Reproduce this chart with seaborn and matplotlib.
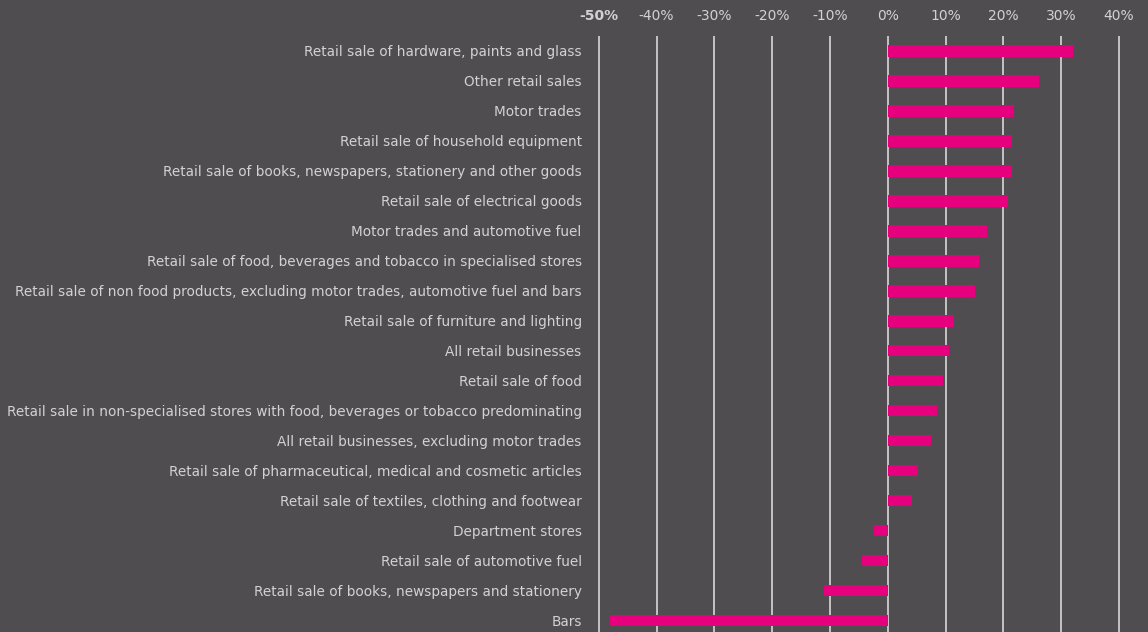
import matplotlib
matplotlib.use("Agg")
import matplotlib.pyplot as plt
import seaborn as sns
import pandas as pd

categories = [
    "Retail sale of hardware, paints and glass",
    "Other retail sales",
    "Motor trades",
    "Retail sale of household equipment",
    "Retail sale of books, newspapers, stationery and other goods",
    "Retail sale of electrical goods",
    "Motor trades and automotive fuel",
    "Retail sale of food, beverages and tobacco in specialised stores",
    "Retail sale of non food products, excluding motor trades, automotive fuel and bars",
    "Retail sale of furniture and lighting",
    "All retail businesses",
    "Retail sale of food",
    "Retail sale in non-specialised stores with food, beverages or tobacco predominating",
    "All retail businesses, excluding motor trades",
    "Retail sale of pharmaceutical, medical and cosmetic articles",
    "Retail sale of textiles, clothing and footwear",
    "Department stores",
    "Retail sale of automotive fuel",
    "Retail sale of books, newspapers and stationery",
    "Bars",
]
values = [32.0, 26.2, 21.9, 21.5, 21.5, 20.7, 17.2, 15.8, 15.1, 11.4,
          10.6, 9.5, 8.5, 7.4, 5.2, 4.2, -2.4, -4.5, -11.1, -48.0]
tick_values = [-50, -40, -30, -20, -10, 0, 10, 20, 30, 40]
tick_labels = ["-50%", "-40%", "-30%", "-20%", "-10%", "0%", "10%", "20%", "30%", "40%"]

BG = "#4f4d50"
TXT = "#d2d2d2"
BAR = "#e6007e"

sns.set_theme(style="white")
plt.rcParams["font.family"] = ["DejaVu Sans"]

df = pd.DataFrame({"category": categories, "value": values})

fig = plt.figure(figsize=(11.48, 6.32), dpi=100, facecolor=BG)
ax = fig.add_axes([597 / 1148, 0.0, 1 - 597 / 1148, (632 - 36) / 632])
ax.set_facecolor(BG)

ax.set_axisbelow(True)
for t in tick_values:
    ax.axvline(t, color="#e4e4e4", lw=1.1, zorder=0)

sns.barplot(data=df, x="value", y="category", orient="h", color=BAR,
            width=0.37, saturation=1, linewidth=0, edgecolor="none",
            ax=ax, zorder=3)

ax.set_xlim(-50.3, 45)
ax.set_ylim(19.37, -0.5)
ax.xaxis.tick_top()
ax.set_xticks(tick_values)
ax.set_xticklabels(tick_labels)
ax.tick_params(axis="x", length=0, pad=9, labelsize=10, labelcolor=TXT)
ax.tick_params(axis="y", length=0, pad=11, labelsize=9.8, labelcolor=TXT)
for lab in ax.get_xticklabels():
    if lab.get_text() == "-50%":
        lab.set_fontweight("bold")
ax.set_xlabel("")
ax.set_ylabel("")
for s in ax.spines.values():
    s.set_visible(False)

fig.savefig("out.png", dpi=100, facecolor=BG)
